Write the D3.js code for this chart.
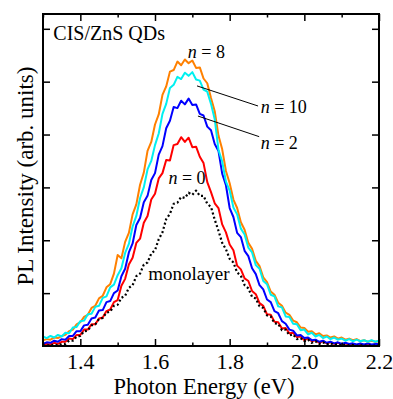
<!DOCTYPE html>
<html>
<head>
<meta charset="utf-8">
<script src="https://cdn.jsdelivr.net/npm/d3@7/dist/d3.min.js"></script>
<style>
  html, body { margin: 0; padding: 0; background: #fff; }
  svg { display: block; }
  svg text { font-family: "Liberation Serif", Tinos, "Times New Roman", Times, "DejaVu Serif", serif; fill: #000; }
</style>
</head>
<body>
<svg id="chart" width="393" height="399"></svg>
<script>
// Photon energy grid (eV), sampled every 10 meV from 1.30 to 2.20
const energyStart = 1.30;
const energyStep = 0.01;

// PL intensity (arb. units) for each sample
const n8 = [
  .11,.13,.12,.16,.15,.19,.21,.28,.31,.41,
  .45,.55,.59,.72,.76,.90,.95,1.11,1.17,1.37,
  1.72,1.66,1.97,2.14,2.49,2.68,3.05,3.28,3.69,3.86,
  4.19,4.38,4.75,4.91,5.19,5.22,5.38,5.31,5.42,5.35,
  5.40,5.26,5.27,5.06,4.97,4.69,4.44,3.98,3.72,3.31,
  3.08,2.77,2.61,2.34,2.20,1.95,1.84,1.61,1.51,1.30,
  1.21,1.03,.97,.82,.76,.63,.59,.48,.45,.35,
  .34,.27,.28,.22,.24,.19,.20,.16,.18,.14,
  .16,.12,.14,.11,.13,.09,.11,.08,.10,.08,
  .09
];
const n10 = [
  .18,.15,.19,.16,.21,.18,.25,.24,.35,.36,
  .47,.48,.60,.61,.74,.76,.91,.94,1.11,1.16,
  1.34,1.47,1.76,1.93,2.26,2.46,2.80,3.00,3.34,3.50,
  3.80,4.02,4.39,4.58,4.88,4.94,5.09,5.05,5.17,5.11,
  5.18,5.04,5.02,4.85,4.81,4.58,4.29,3.71,3.49,3.11,
  2.94,2.62,2.49,2.22,2.11,1.86,1.77,1.53,1.46,1.23,
  1.17,.97,.94,.75,.73,.56,.55,.42,.41,.30,
  .31,.22,.25,.18,.21,.15,.18,.13,.16,.12,
  .14,.10,.13,.09,.12,.09,.11,.08,.11,.08,
  .10
];
const n2 = [
  .04,.07,.06,.10,.08,.13,.12,.19,.19,.28,
  .28,.39,.40,.52,.54,.67,.68,.83,.85,1.00,
  1.05,1.32,1.46,1.77,1.94,2.29,2.42,2.72,2.84,3.14,
  3.27,3.62,3.78,4.12,4.26,4.52,4.50,4.64,4.57,4.68,
  4.56,4.57,4.39,4.36,4.15,4.08,3.82,3.69,3.26,3.04,
  2.61,2.44,2.14,2.06,1.80,1.70,1.47,1.36,1.15,1.07,
  .88,.83,.66,.62,.47,.42,.31,.29,.20,.21,
  .15,.16,.11,.12,.08,.10,.06,.08,.05,.07,
  .04,.06,.04,.05,.03,.05,.03,.05,.03,.04,
  .04
];
const n0 = [
  .02,.04,.03,.06,.04,.08,.08,.14,.13,.21,
  .21,.31,.31,.41,.41,.52,.54,.66,.69,.83,
  .87,1.14,1.27,1.54,1.67,1.95,2.03,2.33,2.46,2.77,
  2.88,3.17,3.27,3.52,3.51,3.80,3.82,3.95,3.86,3.94,
  3.76,3.77,3.58,3.46,3.10,2.91,2.70,2.61,2.30,2.15,
  1.92,1.81,1.52,1.45,1.28,1.23,1.04,.98,.81,.76,
  .60,.59,.46,.45,.33,.34,.24,.25,.17,.18,
  .11,.14,.09,.11,.06,.09,.05,.07,.04,.06,
  .03,.05,.02,.04,.02,.03,.02,.03,.01,.03,
  .02
];
const monolayer = [
  .00,.02,.00,.03,.01,.04,.04,.10,.10,.18,
  .19,.28,.29,.39,.41,.51,.53,.63,.65,.76,
  .78,.91,.95,1.10,1.15,1.32,1.37,1.54,1.58,1.75,
  1.81,2.02,2.15,2.40,2.50,2.69,2.71,2.82,2.80,2.90,
  2.86,2.94,2.84,2.84,2.69,2.63,2.39,2.18,1.95,1.83,
  1.65,1.58,1.39,1.33,1.15,1.09,.93,.90,.75,.72,
  .58,.56,.43,.42,.30,.31,.20,.22,.13,.15,
  .09,.12,.06,.09,.04,.07,.03,.05,.02,.04,
  .01,.03,.01,.02,.00,.02,.00,.02,.00,.01,
  .01
];

// Axis ticks
const xMajorTicks = [1.4, 1.6, 1.8, 2.0, 2.2];
const xMinorTicks = [1.3, 1.5, 1.7, 1.9, 2.1];
const xTickLabels = ["1.4", "1.6", "1.8", "2.0", "2.2"];
const yTicks = [1, 2, 3, 4, 5, 6];

// Series, drawn in this order
const series = [
  { name: "n0", values: n0, color: "#ff0000", dotted: false },
  { name: "n2", values: n2, color: "#0000ff", dotted: false },
  { name: "n8", values: n8, color: "#ff8000", dotted: false },
  { name: "n10", values: n10, color: "#00f0f0", dotted: false },
  { name: "monolayer", values: monolayer, color: "#000000", dotted: true }
];

// Annotation labels (energy, intensity) and leader lines
const labels = [
  { n: "8", e: 1.688, v: 5.44 },
  { n: "10", e: 1.883, v: 4.41 },
  { n: "2", e: 1.883, v: 3.72 },
  { n: "0", e: 1.636, v: 3.07 }
];
const leaders = [
  { e1: 1.7125, v1: 4.92, e2: 1.876, v2: 4.54 },
  { e1: 1.715, v1: 4.35, e2: 1.879, v2: 3.96 }
];

const serif = "'Liberation Serif', Tinos, 'Times New Roman', Times, 'DejaVu Serif', serif";
const svg = d3.select("#chart");
const plotLeft = 43, plotRight = 379, plotTop = 14, plotBottom = 346;

const x = d3.scaleLinear().domain([1.3, 2.2]).range([plotLeft, plotRight]);
const y = d3.scaleLinear().domain([0, 6.28]).range([plotBottom, plotTop]);

svg.append("defs").append("clipPath").attr("id", "plotClip")
  .append("rect").attr("x", plotLeft).attr("y", plotTop)
  .attr("width", plotRight - plotLeft).attr("height", plotBottom - plotTop);

const line = d3.line()
  .x((d, i) => x(energyStart + i * energyStep))
  .y(d => y(d));

const plot = svg.append("g").attr("clip-path", "url(#plotClip)");
series.forEach(s => {
  plot.append("path")
    .attr("d", line(s.values))
    .attr("fill", "none")
    .attr("stroke", s.color)
    .attr("stroke-width", s.dotted ? 2.2 : 2)
    .attr("stroke-linejoin", "round")
    .attr("stroke-dasharray", s.dotted ? "2,2.4" : null);
});

// Axes: ticks point inward on all four sides
function addAxis(axis, transform) {
  const g = svg.append("g").attr("transform", transform).call(axis);
  g.select(".domain").remove();
  g.attr("font-family", serif);
  g.selectAll("line").attr("stroke", "#000").attr("stroke-width", 1.5);
  return g;
}
const fmt = d => xTickLabels[xMajorTicks.indexOf(d)];

const xBottom = addAxis(
  d3.axisBottom(x).tickValues(xMajorTicks).tickSize(-7).tickPadding(7).tickFormat(fmt),
  `translate(0,${plotBottom})`);
xBottom.attr("font-size", 22);
xBottom.selectAll("text").attr("font-family", serif).attr("font-size", 22);
addAxis(d3.axisBottom(x).tickValues(xMinorTicks).tickSize(-3.5).tickFormat(""),
  `translate(0,${plotBottom})`);
addAxis(d3.axisTop(x).tickValues(xMajorTicks).tickSize(-7).tickFormat(""),
  `translate(0,${plotTop})`);
addAxis(d3.axisTop(x).tickValues(xMinorTicks).tickSize(-3.5).tickFormat(""),
  `translate(0,${plotTop})`);
addAxis(d3.axisLeft(y).tickValues(yTicks).tickSize(-7).tickFormat(""),
  `translate(${plotLeft},0)`);
addAxis(d3.axisRight(y).tickValues(yTicks).tickSize(-7).tickFormat(""),
  `translate(${plotRight},0)`);

// Frame
svg.append("rect")
  .attr("x", plotLeft).attr("y", plotTop)
  .attr("width", plotRight - plotLeft).attr("height", plotBottom - plotTop)
  .attr("fill", "none").attr("stroke", "#000").attr("stroke-width", 2);

// Axis titles
svg.append("text")
  .attr("x", 204).attr("y", 394)
  .attr("text-anchor", "middle").attr("font-size", 22.5)
  .attr("font-family", serif)
  .text("Photon Energy (eV)");
svg.append("text")
  .attr("transform", "translate(33,176) rotate(-90)")
  .attr("text-anchor", "middle").attr("font-size", 23)
  .attr("font-family", serif)
  .text("PL Intensity (arb. units)");

// Sample name
svg.append("text")
  .attr("x", x(1.3276)).attr("y", y(5.79))
  .attr("font-size", 20)
  .attr("font-family", serif)
  .text("CIS/ZnS QDs");

// Curve labels
labels.forEach(l => {
  const t = svg.append("text")
    .attr("x", x(l.e)).attr("y", y(l.v))
    .attr("font-size", 18)
    .attr("font-family", serif);
  t.append("tspan").attr("font-style", "italic").text("n");
  t.append("tspan").text(" = " + l.n);
});
svg.append("text")
  .attr("x", x(1.582)).attr("y", y(1.24))
  .attr("font-size", 19)
  .attr("font-family", serif)
  .text("monolayer");

leaders.forEach(l => {
  svg.append("line")
    .attr("x1", x(l.e1)).attr("y1", y(l.v1))
    .attr("x2", x(l.e2)).attr("y2", y(l.v2))
    .attr("stroke", "#000").attr("stroke-width", 1);
});
</script>
</body>
</html>
